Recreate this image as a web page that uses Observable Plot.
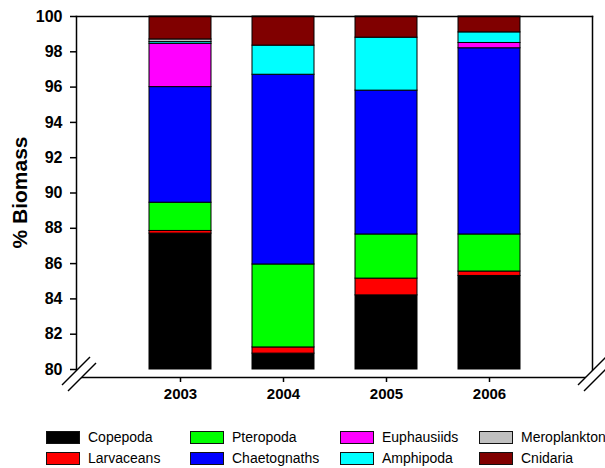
<!DOCTYPE html>
<html>
<head>
<meta charset="utf-8">
<script src="https://cdn.jsdelivr.net/npm/d3@7"></script>
<script src="https://cdn.jsdelivr.net/npm/@observablehq/plot@0.6"></script>
<style>
  body { margin: 0; background: #fff; font-family: Arial, "Liberation Sans", sans-serif; }
  #wrap { position: relative; width: 605px; height: 468px; overflow: hidden; }
  #legend { position: absolute; left: 0; top: 427px; width: 605px; }
  .item { position: absolute; display: flex; align-items: center; font-size: 14px; color: #000; height: 20px; white-space: nowrap; }
  .sw { width: 32px; height: 11px; border: 1px solid #111; margin-right: 8px; }
</style>
</head>
<body>
<div id="wrap"><div id="chart"></div><div id="legend"></div></div>
<script>
const years = ["2003", "2004", "2005", "2006"];
const groups = ["Copepoda", "Larvaceans", "Pteropoda", "Chaetognaths", "Euphausiids", "Amphipoda", "Meroplankton", "Cnidaria"];
const colors = ["#000000", "#ff0000", "#00ff00", "#0000ff", "#ff00ff", "#00ffff", "#c0c0c0", "#800000"];
const yTicks = [80, 82, 84, 86, 88, 90, 92, 94, 96, 98, 100];

const copepoda     = [87.7, 80.9, 84.2, 85.3];
const larvaceans   = [0.15, 0.35, 0.95, 0.25];
const pteropoda    = [1.6, 4.7, 2.5, 2.1];
const chaetognaths = [6.55, 10.75, 8.15, 10.55];
const euphausiids  = [2.45, 0, 0, 0.3];
const amphipoda    = [0.1, 1.65, 3.0, 0.6];
const meroplankton = [0.15, 0, 0, 0];
const cnidaria     = [1.3, 1.65, 1.2, 0.9];

const series = [copepoda, larvaceans, pteropoda, chaetognaths, euphausiids, amphipoda, meroplankton, cnidaria];
const data = [];
groups.forEach((g, gi) => years.forEach((y, yi) => data.push({year: y, group: g, value: series[gi][yi]})));

const chart = Plot.plot({
  width: 605,
  height: 420,
  marginLeft: 76,
  marginRight: 13,
  marginTop: 16,
  marginBottom: 43,
  style: {fontFamily: "Arial, 'Liberation Sans', sans-serif", color: "#000", background: "#fff"},
  x: {domain: years, paddingInner: 0.4, paddingOuter: 0.7, label: null},
  y: {domain: [80, 100], clamp: true, insetBottom: 8, label: null},
  color: {domain: groups, range: colors},
  marks: [
    Plot.barY(data, {x: "year", y: "value", fill: "group", stroke: "#000", strokeWidth: 1, order: groups}),
    Plot.axisY({ticks: yTicks, tickSize: 6, tickPadding: 8, fontSize: 16, fontWeight: "bold", stroke: "#000", strokeWidth: 1.5, label: null}),
    Plot.axisX({tickSize: 5, tickPadding: 6, fontSize: 15, fontWeight: "bold", stroke: "#000", strokeWidth: 1.5, label: null}),
    Plot.frame({anchor: "top", stroke: "#000", strokeWidth: 1.5}),
    Plot.frame({anchor: "left", stroke: "#000", strokeWidth: 1.5}),
    Plot.frame({anchor: "right", stroke: "#000", strokeWidth: 1.5}),
    Plot.frame({anchor: "bottom", stroke: "#000", strokeWidth: 1.5})
  ]
});
document.getElementById("chart").appendChild(chart);

// axis breaks and y title
const svg = d3.select(chart);
const xl = 76, xr = 605 - 13, yb = 420 - 43;
[xl, xr].forEach(cx => {
  svg.append("polygon")
    .attr("points", `${cx - 14},${yb + 8} ${cx + 14},${yb - 20} ${cx + 20},${yb - 14} ${cx - 8},${yb + 14}`)
    .attr("fill", "#fff");
  svg.append("line").attr("x1", cx - 14).attr("y1", yb + 8).attr("x2", cx + 14).attr("y2", yb - 20)
    .attr("stroke", "#000").attr("stroke-width", 1.5);
  svg.append("line").attr("x1", cx - 8).attr("y1", yb + 14).attr("x2", cx + 20).attr("y2", yb - 14)
    .attr("stroke", "#000").attr("stroke-width", 1.5);
});
const yMid = (chart.scale("y").apply(80) + chart.scale("y").apply(100)) / 2;
svg.append("text")
  .attr("transform", `translate(27,${yMid}) rotate(-90)`)
  .attr("text-anchor", "middle")
  .attr("font-size", 21)
  .attr("font-weight", "bold")
  .attr("fill", "#000")
  .text("% Biomass");

// legend
const legendPos = [[46, 0], [46, 1], [190, 0], [190, 1], [340, 0], [340, 1], [479, 0], [479, 1]];
const leg = document.getElementById("legend");
groups.forEach((g, i) => {
  const it = document.createElement("div");
  it.className = "item";
  it.style.left = legendPos[i][0] + "px";
  it.style.top = (legendPos[i][1] * 21) + "px";
  it.innerHTML = `<span class="sw" style="background:${colors[i]}"></span><span>${g}</span>`;
  leg.appendChild(it);
});
</script>
</body>
</html>
